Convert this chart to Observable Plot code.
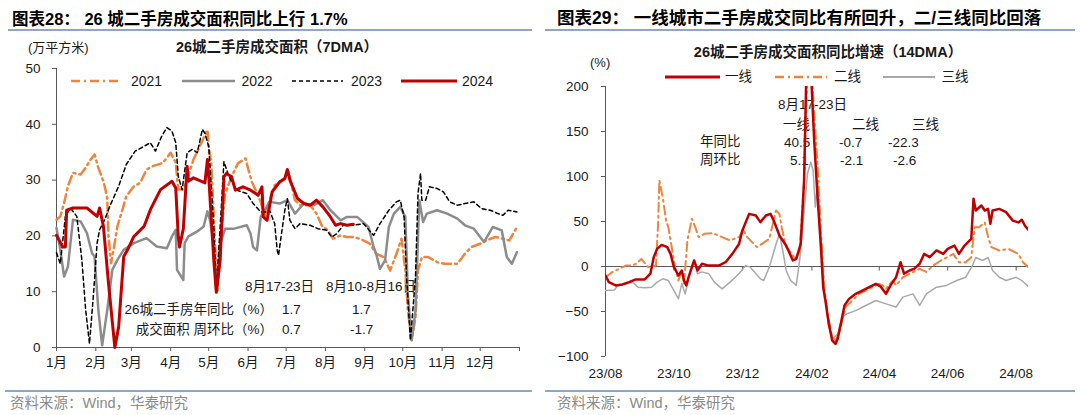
<!DOCTYPE html>
<html><head><meta charset="utf-8">
<script src="https://cdn.jsdelivr.net/npm/d3@7"></script>
<script src="https://cdn.jsdelivr.net/npm/@observablehq/plot@0.6"></script>
<style>
html,body{margin:0;padding:0;background:#fff;}
#root{position:relative;width:1080px;height:415px;overflow:hidden;background:#fff;}
.t{position:absolute;white-space:nowrap;line-height:1;}
.abs{position:absolute;}
</style></head>
<body><div id="root"></div>
<script>
// ---------------- DATA ----------------
// Left chart: 26-city second-hand housing transaction area (7DMA), 万平方米
const leftMonthLabels = ["1月","2月","3月","4月","5月","6月","7月","8月","9月","10月","11月","12月"];
const leftYTicks = [0,10,20,30,40,50];
const leftSeriesNames = ["2021","2022","2023","2024"];

const l2021Dates = ["01-01","01-04","01-07","01-10","01-14","01-20","01-24","01-27","01-31","02-03","02-06","02-08","02-10","02-11","02-13","02-15","02-18","02-22","02-25","03-03","03-08","03-13","03-18","03-26","04-01","04-05","04-07","04-11","04-14","04-19","04-24","04-30","05-01","05-03","05-06","05-08","05-10","05-14","05-19","05-24","05-30","06-01","06-04","06-07","06-11","06-14","06-18","06-22","06-29","07-03","07-08","07-12","07-20","07-25","07-29","08-03","08-07","08-13","08-18","08-23","08-28","09-05","09-10","09-16","09-21","09-26","09-30","10-03","10-05","10-08","10-11","10-13","10-16","10-21","10-28","11-03","11-13","11-19","11-24","12-01","12-06","12-13","12-19","12-24","12-30"];
const l2021Vals = [22.9,23.5,25.9,28.9,31.3,31,32.2,33.4,34.6,32.2,30.4,28.9,26.8,19.9,15.1,17.5,21.7,24.7,27.1,28.9,29.5,31.9,32.5,33.1,34.9,33.1,28.3,28.3,30.1,33.7,36.1,39,36,33,18.6,10.2,18.6,27.6,30.6,33,33.9,32.1,29.7,28.2,26.1,23.4,26.4,29.1,30,31.5,26.4,25.5,25.5,24,21.9,21,19.5,20.1,19.8,19.8,19.5,18.6,16.8,16.2,13.8,16.8,19.5,13.8,6.6,1.3,5.4,13.8,16.2,16.2,15.3,15,15,16.8,18,18.6,19.2,19.8,19.5,19.2,21.6];

const l2022Dates = ["01-01","01-04","01-07","01-10","01-14","01-20","01-25","01-29","01-31","02-03","02-06","02-10","02-14","02-18","02-23","03-03","03-13","03-21","03-29","04-02","04-05","04-06","04-11","04-12","04-15","04-22","04-27","04-30","05-02","05-05","05-07","05-10","05-14","05-21","05-31","06-03","06-05","06-08","06-11","06-18","06-26","07-02","07-08","07-15","07-23","07-30","08-05","08-13","08-18","08-26","09-04","09-08","09-10","09-13","09-17","09-20","09-24","09-29","10-03","10-05","10-08","10-11","10-14","10-17","10-20","10-28","11-05","11-13","11-19","11-26","12-04","12-11","12-18","12-22","12-26","12-30"];
const l2022Vals = [21.4,17.5,12.7,14.5,22.9,22.6,20.5,16.9,16.3,6.7,0.4,6.7,13.9,15.7,17.5,18.7,19.6,18.1,17.8,19.9,21.1,13.9,12.1,18.7,19.9,20.8,21.7,24.4,22.8,18.6,10.2,18.6,21.3,21.3,21.9,20.4,18,17.4,23.4,26.1,25.8,26.4,24,25.8,25.5,26.4,24.6,22.8,23.4,23.4,21.6,18,16.8,14.1,15.6,21.6,24,25.2,23.4,9.6,1.3,6.6,26.4,22.5,24,24.6,24,23.1,21.9,21.3,18.9,21.6,21,16.2,15,17.1];

const l2023Dates = ["01-01","01-04","01-08","01-12","01-17","01-21","01-24","01-27","01-30","02-02","02-04","02-08","02-12","02-19","02-25","03-04","03-09","03-16","03-20","03-25","03-29","04-02","04-05","04-07","04-10","04-14","04-18","04-22","04-26","04-28","05-01","05-05","05-07","05-10","05-13","05-17","05-23","05-31","06-05","06-11","06-15","06-18","06-22","06-24","06-25","06-27","06-30","07-02","07-04","07-08","07-12","07-20","07-26","08-02","08-06","08-10","08-15","08-23","08-31","09-08","09-13","09-20","09-26","09-29","10-02","10-04","10-07","10-11","10-13","10-15","10-16","10-19","10-22","10-28","11-02","11-07","11-13","11-19","11-26","12-02","12-09","12-15","12-19","12-23","12-30"];
const l2023Vals = [17,15,23.5,25,23.5,15.7,6.7,0.7,9.1,18.7,21.1,22.9,25.3,28.9,32.8,35.2,35.8,36.7,35.2,37.9,39.4,38.8,36.7,30.7,28.3,34.9,35.5,34.9,39.1,38.4,36,21.6,10.2,21.6,33.3,30.6,28.2,27.6,25.8,24.3,24.3,24.6,22.2,17.4,16.5,19.8,24.6,26.7,22.8,21.3,22.2,21.9,21.3,21,19.8,20.4,21.9,21.9,22.2,20.1,22.2,24.6,26.1,26.4,23.4,12.6,1.3,12.6,27.6,31.2,26.4,26.4,28.8,28.5,27.9,26.1,25.5,25.8,26.1,24.9,24.6,24,23.7,24.6,24.3];

const l2024Dates = ["01-01","01-06","01-08","01-09","01-14","01-25","02-02","02-04","02-07","02-11","02-16","02-19","02-23","02-26","03-03","03-11","03-16","03-24","04-02","04-05","04-07","04-08","04-11","04-14","04-15","04-19","04-28","04-30","05-01","05-05","05-07","05-10","05-13","05-15","05-19","05-22","05-28","06-03","06-09","06-12","06-13","06-16","06-20","06-26","06-30","07-02","07-04","07-10","07-15","07-20","07-25","07-30","08-05","08-09","08-13","08-18","08-23"];
const l2024Vals = [20.1,18,18,24.6,25,25,23.5,25,21.7,11.5,0,3.7,16.3,17.5,19.9,21.7,24.7,28.3,29.8,28.6,19.9,18,21.3,32.5,29.8,30.4,29.5,33.7,30.6,15.6,9.9,15.6,30.6,31.2,30.6,28.2,28.8,28.2,27.3,28.8,23.4,22.8,27.9,29.7,30.3,31.9,30,26.7,25.8,25.5,26.4,25.2,23.4,21.9,22.2,21.9,22.1];

// Right chart: YoY growth of transaction area by city tier (14DMA), %
const rightSeriesNames = ["一线","二线","三线"];
const rightYTicks = [-100,-50,0,50,100,150,200];
const rightTickDates = ["2023-08-01","2023-10-01","2023-12-01","2024-02-01","2024-04-01","2024-06-01","2024-08-01"];
const rightTickLabels = ["23/08","23/10","23/12","24/02","24/04","24/06","24/08"];

const tier1Dates = ["2023-08-01","2023-08-04","2023-08-10","2023-08-16","2023-08-22","2023-08-28","2023-09-05","2023-09-10","2023-09-13","2023-09-16","2023-09-20","2023-09-25","2023-09-28","2023-10-01","2023-10-05","2023-10-08","2023-10-10","2023-10-12","2023-10-14","2023-10-19","2023-10-22","2023-10-26","2023-11-01","2023-11-10","2023-11-16","2023-11-22","2023-11-28","2023-12-01","2023-12-07","2023-12-13","2023-12-17","2023-12-22","2023-12-26","2023-12-29","2024-01-03","2024-01-09","2024-01-15","2024-01-18","2024-01-22","2024-01-25","2024-01-27","2024-01-31","2024-02-03","2024-02-06","2024-02-09","2024-02-11","2024-02-13","2024-02-16","2024-02-19","2024-02-22","2024-02-24","2024-02-27","2024-03-01","2024-03-05","2024-03-11","2024-03-17","2024-03-23","2024-03-29","2024-04-02","2024-04-07","2024-04-11","2024-04-16","2024-04-20","2024-04-23","2024-04-28","2024-05-02","2024-05-07","2024-05-11","2024-05-16","2024-05-22","2024-05-28","2024-06-01","2024-06-07","2024-06-11","2024-06-16","2024-06-22","2024-06-24","2024-06-26","2024-07-01","2024-07-04","2024-07-07","2024-07-09","2024-07-11","2024-07-17","2024-07-23","2024-07-29","2024-08-03","2024-08-06","2024-08-09","2024-08-12"];
const tier1Vals = [-10,-17.4,-21,-20,-17.4,-14.4,-14.4,-8,10.4,19.6,24,21.5,14,-0.7,-10,-4.4,-15.6,-21,-12,6.7,-4.4,3,1,1,4.8,14,25,40,58.5,56.7,49.3,56.7,58.5,51,34.4,23.3,6.7,8.5,25.2,95.6,215,220,140,77,21.5,-23,-37.8,-63.7,-82,-86,-80,-61.9,-43.3,-36,-30.4,-26.7,-23,-19.3,-22,-30.4,-21,-11.9,4.8,-8,-4.4,-2.6,3,14,10.4,17.8,14,19.6,23.3,14,23.3,30.7,75.2,62.2,67.8,62.2,64,47.4,62.2,64,60.4,51,49,52,45,40.5];

const tier2Dates = ["2023-08-01","2023-08-07","2023-08-13","2023-08-19","2023-08-25","2023-08-29","2023-09-02","2023-09-08","2023-09-15","2023-09-17","2023-09-18","2023-09-21","2023-09-24","2023-09-26","2023-09-28","2023-10-02","2023-10-05","2023-10-08","2023-10-10","2023-10-13","2023-10-17","2023-10-20","2023-10-23","2023-10-28","2023-11-05","2023-11-13","2023-11-20","2023-11-28","2023-12-02","2023-12-04","2023-12-14","2023-12-25","2023-12-31","2024-01-03","2024-01-05","2024-01-09","2024-01-13","2024-01-17","2024-01-21","2024-01-25","2024-01-28","2024-02-01","2024-02-03","2024-02-06","2024-02-09","2024-02-12","2024-02-15","2024-02-19","2024-02-22","2024-02-25","2024-02-28","2024-03-02","2024-03-08","2024-03-14","2024-03-23","2024-04-01","2024-04-04","2024-04-07","2024-04-13","2024-04-16","2024-04-22","2024-04-28","2024-05-07","2024-05-13","2024-05-19","2024-05-26","2024-06-06","2024-06-11","2024-06-17","2024-06-22","2024-06-25","2024-06-29","2024-07-04","2024-07-07","2024-07-10","2024-07-17","2024-07-25","2024-08-03","2024-08-07","2024-08-12"];
const tier2Vals = [-12,-6.3,-2.6,1,1,3.7,8.5,-0.7,1,51,95.6,77,51,43.7,29,-0.7,-15.6,-4.4,-19,29,53,43.7,32.6,36.3,37,32.6,29,32.6,42,34.4,21.5,30.7,62.2,58.5,43.7,21.5,16,8.5,16,95.6,215,215,170,114,40,-23,-52,-78.5,-82,-75,-60,-45,-37.8,-30.4,-24.8,-19.3,-21,-24.8,-15.6,-21,-12,-8,-2.6,-6,1,6.7,14,4.8,4.8,10.4,43.7,43.7,49,32.6,21.5,17.8,19.6,14,4.8,-0.7];

const tier3Dates = ["2023-08-01","2023-08-09","2023-08-12","2023-08-19","2023-08-25","2023-08-30","2023-09-05","2023-09-11","2023-09-16","2023-09-21","2023-09-26","2023-10-01","2023-10-05","2023-10-08","2023-10-11","2023-10-16","2023-10-19","2023-10-22","2023-10-26","2023-11-01","2023-11-06","2023-11-13","2023-11-20","2023-11-28","2023-12-04","2023-12-08","2023-12-17","2023-12-20","2023-12-25","2023-12-31","2024-01-03","2024-01-06","2024-01-09","2024-01-13","2024-01-18","2024-01-21","2024-01-24","2024-01-28","2024-01-31","2024-02-02","2024-02-04","2024-02-06","2024-02-09","2024-02-12","2024-02-16","2024-02-20","2024-02-24","2024-02-28","2024-03-03","2024-03-11","2024-03-20","2024-03-29","2024-04-07","2024-04-16","2024-04-22","2024-05-01","2024-05-07","2024-05-13","2024-05-22","2024-05-31","2024-06-09","2024-06-17","2024-06-23","2024-06-26","2024-07-02","2024-07-07","2024-07-11","2024-07-17","2024-07-23","2024-08-01","2024-08-06","2024-08-12"];
const tier3Vals = [-26.7,-26,-21,-19.3,-17.4,-23,-23.7,-23,-17.4,-13.7,-15.6,-26.7,-36,-19,-30.4,-2.6,6.7,-8,-6,-8,-17.4,-24.8,-17.4,-8,1,-0.7,-13.7,-15.6,-0.7,25,36,17.8,-4.4,-15.6,-21,6.7,47,103,116,107,66,95,32.6,-26.7,-67,-80,-75,-56,-52.6,-49,-43.3,-37.8,-41.5,-45,-34,-30.4,-43.3,-30.4,-23,-21,-15.6,-12,1,10,6.7,10,-4.4,-12,-15.6,-12,-15.6,-22.3];

// ---------------- STYLE ----------------
const FONT = '"Liberation Sans", Arial, "Noto Sans CJK SC", sans-serif';
const AXIS = "#595959";
const TEXT = "#1a1a1a";
const RULE = "#8DA7C6";
const C_ORANGE = "#F0843C", C_GRAY = "#8C8C8C", C_BLACK = "#000000", C_RED = "#C00000", C_LGRAY = "#A9A9A9";

const root = document.getElementById("root");
function txt(s, x, y, o = {}) {
  const el = document.createElement("div");
  el.className = "t";
  el.textContent = s;
  const a = o.anchor || "start";
  Object.assign(el.style, {
    left: x + "px", top: y + "px", fontSize: (o.size || 13.5) + "px",
    fontWeight: o.weight || "normal", color: o.color || TEXT, fontFamily: o.family || FONT,
    transform: a === "middle" ? "translate(-50%,-50%)" : a === "end" ? "translate(-100%,-50%)" : "translate(0,-50%)"
  });
  root.appendChild(el);
}
function hrule(x1, x2, y, h, color) {
  const el = document.createElement("div");
  el.className = "abs";
  Object.assign(el.style, {left: x1 + "px", top: (y - h / 2) + "px", width: (x2 - x1) + "px", height: h + "px", background: color});
  root.appendChild(el);
}
function legLine(x1, x2, y, stroke, w, dash) {
  const ns = "http://www.w3.org/2000/svg";
  const s = document.createElementNS(ns, "svg");
  s.setAttribute("width", x2 - x1); s.setAttribute("height", 10);
  s.style.position = "absolute"; s.style.left = x1 + "px"; s.style.top = (y - 5) + "px";
  const l = document.createElementNS(ns, "line");
  l.setAttribute("x1", 0); l.setAttribute("x2", x2 - x1); l.setAttribute("y1", 5); l.setAttribute("y2", 5);
  l.setAttribute("stroke", stroke); l.setAttribute("stroke-width", w);
  if (dash) l.setAttribute("stroke-dasharray", dash);
  s.appendChild(l); root.appendChild(s);
}

// ---------------- HEADERS / FOOTERS ----------------
txt("图表28：  26 城二手房成交面积同比上行 1.7%", 12, 19, {size: 16.5, weight: "bold", color: "#000"});
txt("图表29：  一线城市二手房成交同比有所回升，二/三线同比回落", 557, 19, {size: 17.5, weight: "bold", color: "#000"});
hrule(8, 532, 30, 1.5, RULE);
hrule(545, 1075, 30, 1.5, RULE);
hrule(5, 532, 391, 2, RULE);
hrule(545, 1075, 391, 2, RULE);
txt("资料来源：Wind，华泰研究", 10, 403, {size: 14.5, color: "#8a8a8a"});
txt("资料来源：Wind，华泰研究", 557, 403, {size: 14.5, color: "#8a8a8a"});

// left header
txt("(万平方米)", 28, 46.5, {size: 13});
txt("26城二手房成交面积（7DMA）", 277, 46.5, {size: 14.5, weight: "bold", anchor: "middle"});
const leftStyles = [
  {stroke: C_ORANGE, w: 2.5, dash: "9,4,2,4"},
  {stroke: C_GRAY, w: 2.5, dash: null},
  {stroke: C_BLACK, w: 1.5, dash: "4,3"},
  {stroke: C_RED, w: 3, dash: null}
];
const leftLegendPos = [[71,121,131],[182,235,241.5],[292,343,351],[401,457,462]];
leftSeriesNames.forEach((n, i) => {
  const [a, b, t] = leftLegendPos[i], st = leftStyles[i];
  legLine(a, b, 81, st.stroke, st.w, st.dash);
  txt(n, t, 81, {size: 14});
});

// right header
txt("26城二手房成交面积同比增速（14DMA）", 828, 52, {size: 14.5, weight: "bold", anchor: "middle"});
txt("(%)", 590, 62, {size: 13});
const rightStyles = [
  {stroke: C_RED, w: 2.5, dash: null},
  {stroke: C_ORANGE, w: 2, dash: "9,4,2,4"},
  {stroke: C_LGRAY, w: 1.5, dash: null}
];
const rightLegendPos = [[665,720,725],[775,827,834],[883,935,941.5]];
rightSeriesNames.forEach((n, i) => {
  const [a, b, t] = rightLegendPos[i], st = rightStyles[i];
  legLine(a, b, 77, st.stroke, st.w + 0.5, st.dash);
  txt(n, t, 77, {size: 13.5});
});

// annotations (under the plots)
txt("8月17-23日", 245, 287);
txt("8月10-8月16日", 326, 287);
txt("26城二手房年同比（%）", 273, 310, {anchor: "end"});
txt("成交面积  周环比（%）", 273, 330, {anchor: "end"});
txt("1.7", 282, 310); txt("1.7", 352, 310);
txt("0.7", 282, 330); txt("-1.7", 350, 330);

txt("8月17-23日", 778, 105);
txt("一线", 783, 125); txt("二线", 852, 125); txt("三线", 912, 125);
txt("年同比", 700, 142); txt("周环比", 700, 160);
txt("40.5", 784, 143); txt("5.1", 790, 161);
txt("-0.7", 839, 143); txt("-2.1", 840, 161);
txt("-22.3", 888, 143); txt("-2.6", 893, 161);

// ---------------- LEFT PLOT ----------------
const parseL = s => new Date(`2023-${s}T00:00:00Z`);
const parseR = s => new Date(`${s}T00:00:00Z`);
const mk = (dates, vals, parse) => dates.map((d, i) => ({date: parse(d), value: vals[i]}));
const leftData = [
  mk(l2021Dates, l2021Vals, parseL), mk(l2022Dates, l2022Vals, parseL),
  mk(l2023Dates, l2023Vals, parseL), mk(l2024Dates, l2024Vals, parseL)
];
const lStart = new Date(Date.UTC(2023, 0, 1)), lEnd = new Date(Date.UTC(2024, 0, 1));
const leftTicks = d3.utcMonth.range(lStart, new Date(Date.UTC(2024, 0, 2)));

const left = Plot.plot({
  width: 540, height: 415,
  marginLeft: 56, marginRight: 21, marginTop: 68, marginBottom: 68,
  style: {background: "transparent", fontFamily: FONT, fontSize: "13.5px", color: TEXT, overflow: "visible"},
  x: {type: "utc", domain: [lStart, lEnd]},
  y: {domain: [0, 50]},
  marks: [
    Plot.ruleX([lStart], {stroke: AXIS}),
    Plot.ruleY([0], {stroke: AXIS}),
    Plot.axisY({ticks: leftYTicks, tickSize: 4, tickPadding: 12, stroke: AXIS, label: null}),
    Plot.axisX({ticks: leftTicks, tickSize: 4, tickPadding: 6, stroke: AXIS, label: null,
      tickFormat: d => d.getUTCFullYear() > 2023 ? "" : leftMonthLabels[d.getUTCMonth()]}),
    ...leftData.map((data, i) => Plot.line(data, {x: "date", y: "value", stroke: leftStyles[i].stroke,
      strokeWidth: leftStyles[i].w, strokeDasharray: leftStyles[i].dash || undefined}))
  ]
});
left.style.position = "absolute"; left.style.left = "0px"; left.style.top = "0px";
root.appendChild(left);

// ---------------- RIGHT PLOT ----------------
const rightData = [mk(tier1Dates, tier1Vals, parseR), mk(tier2Dates, tier2Vals, parseR), mk(tier3Dates, tier3Vals, parseR)];
const rStart = parseR("2023-08-01"), rEnd = parseR("2024-08-12");
const rTicks = rightTickDates.map(parseR);
const rightOrder = [2, 1, 0];
const right = Plot.plot({
  width: 540, height: 415,
  marginLeft: 65, marginRight: 52, marginTop: 86, marginBottom: 59,
  style: {background: "transparent", fontFamily: FONT, fontSize: "13.5px", color: TEXT, overflow: "visible"},
  x: {type: "utc", domain: [rStart, rEnd]},
  y: {domain: [-100, 200]},
  marks: [
    Plot.ruleX([rStart], {stroke: AXIS}),
    Plot.ruleY([0], {stroke: AXIS}),
    Plot.ruleX(rTicks.slice(1), {x: d => d, y1: 0, y2: -5, stroke: AXIS}),
    Plot.axisY({ticks: rightYTicks, tickSize: 4, tickPadding: 13, stroke: AXIS, label: null}),
    Plot.axisX({ticks: rTicks, tickSize: 0, tickPadding: 12, label: null,
      tickFormat: d => rightTickLabels[rTicks.findIndex(t => +t === +d)]}),
    ...rightOrder.map(i => Plot.line(rightData[i], {x: "date", y: "value", stroke: rightStyles[i].stroke,
      strokeWidth: rightStyles[i].w, strokeDasharray: rightStyles[i].dash || undefined, clip: true}))
  ]
});
right.style.position = "absolute"; right.style.left = "540px"; right.style.top = "0px";
root.appendChild(right);
</script>
</body></html>
